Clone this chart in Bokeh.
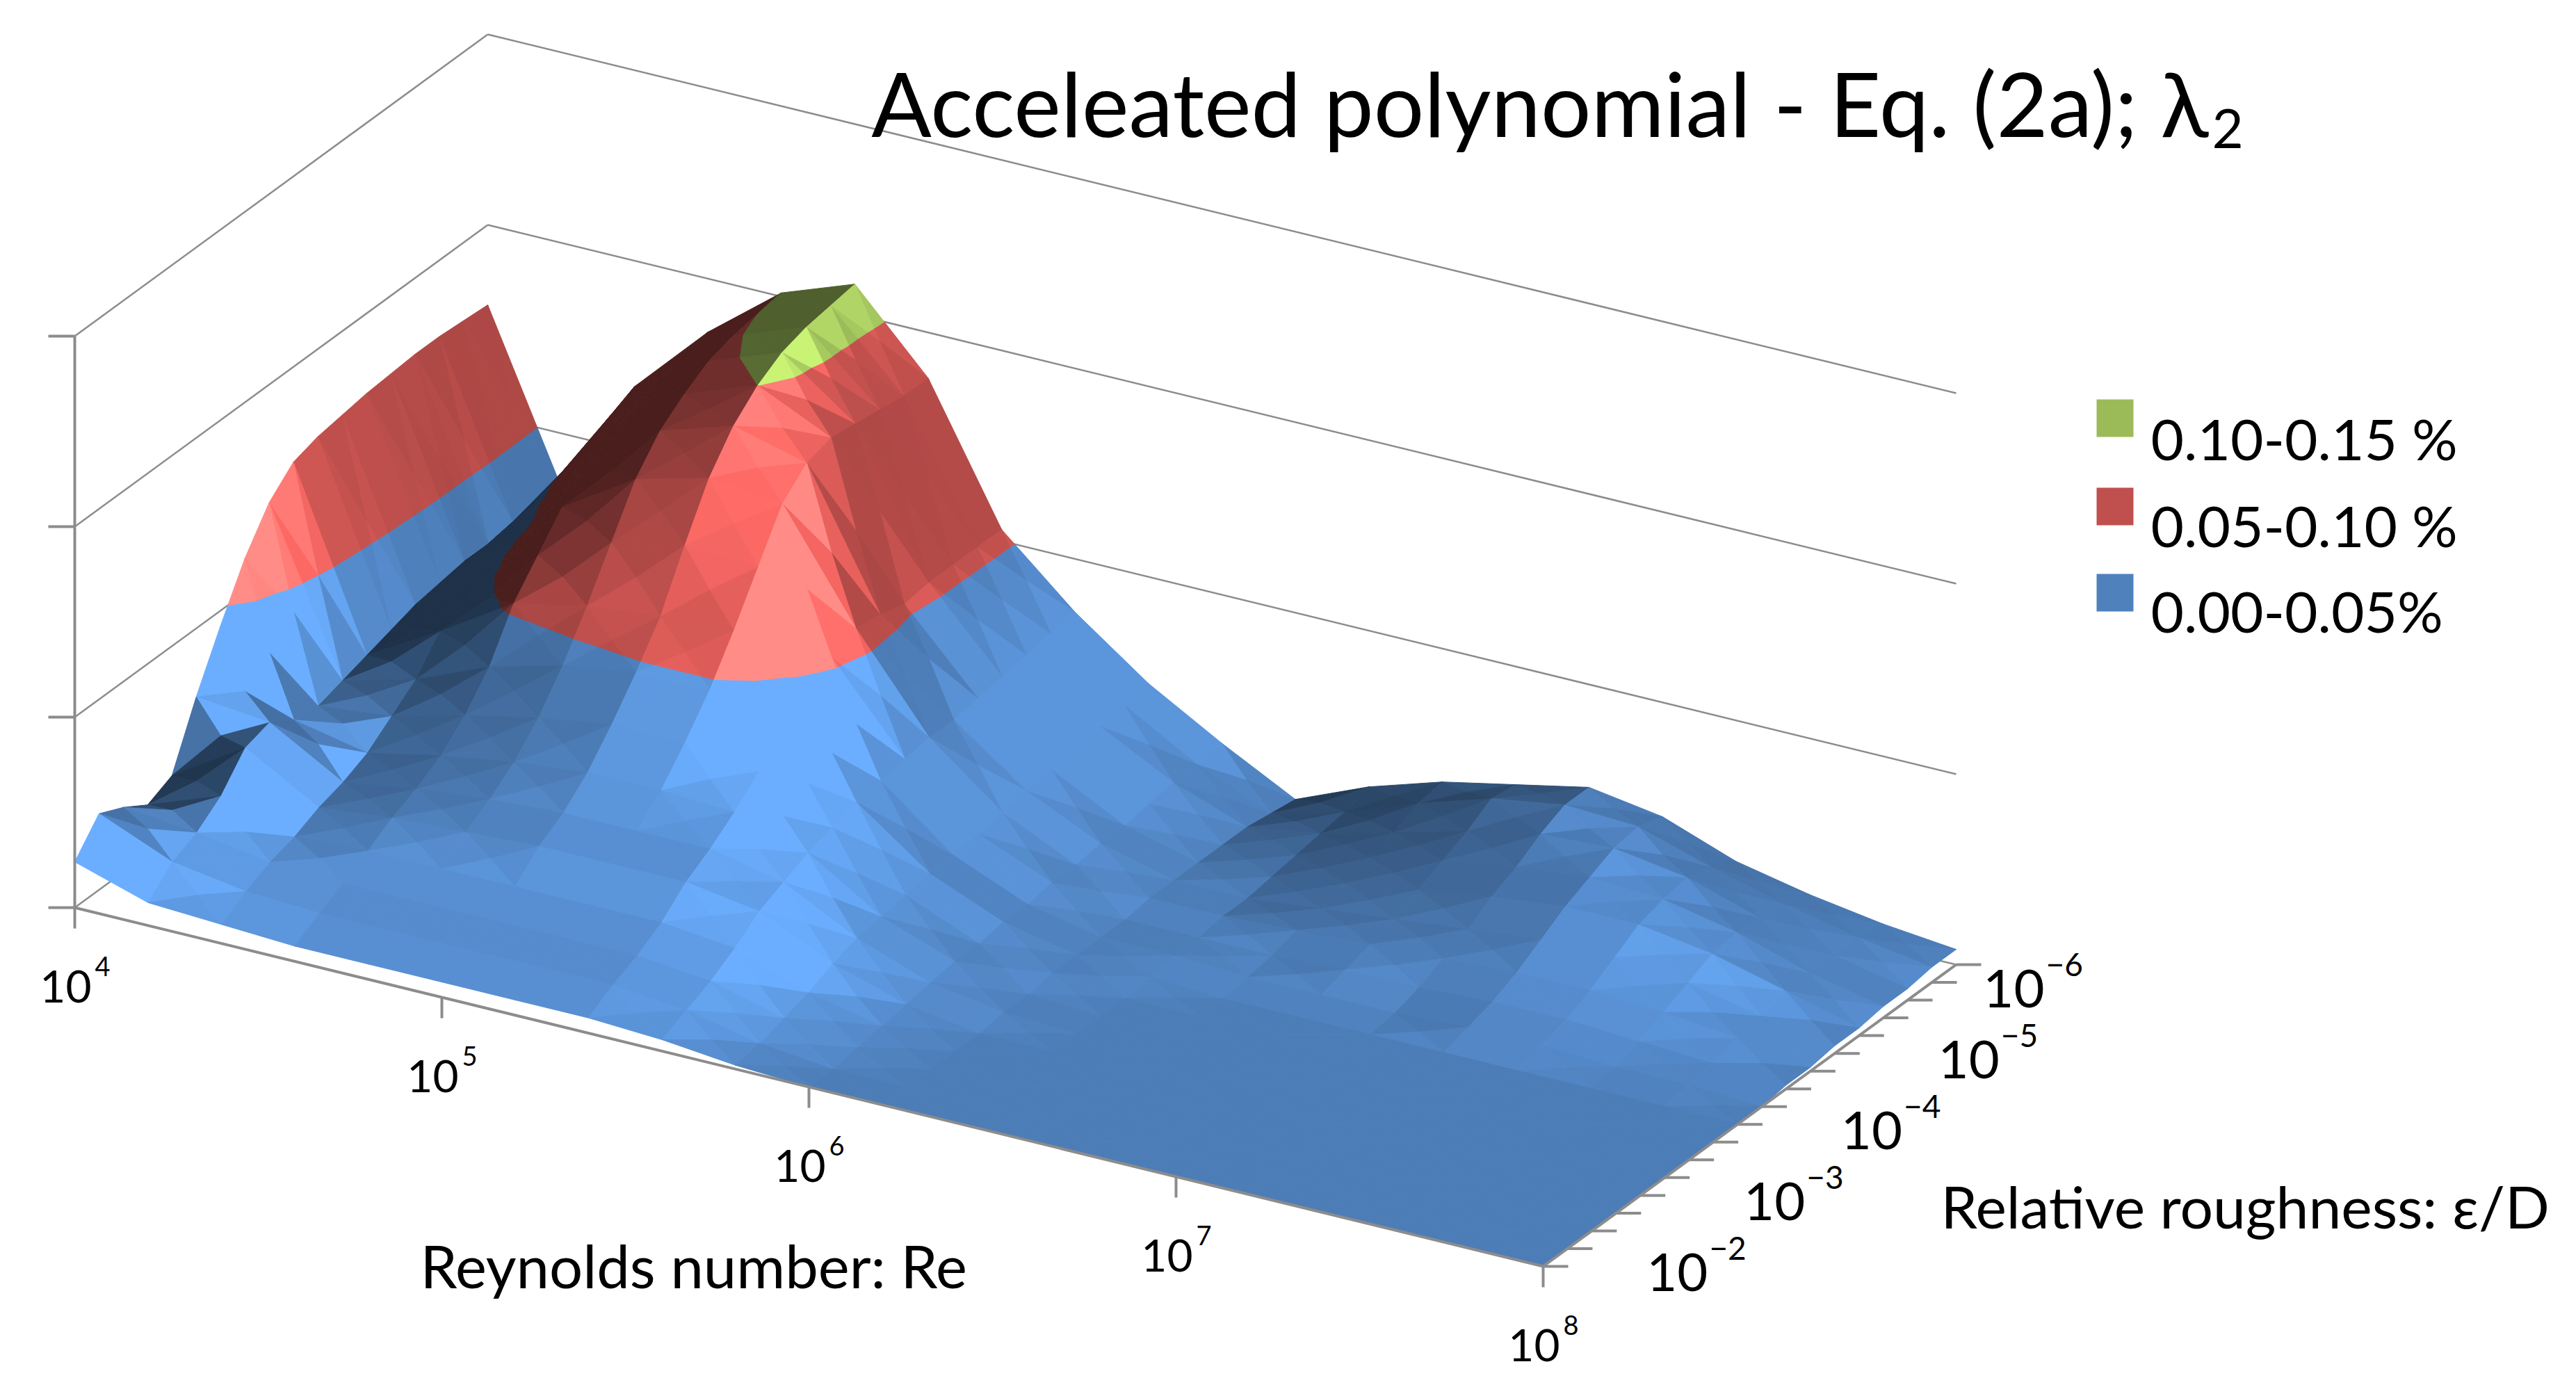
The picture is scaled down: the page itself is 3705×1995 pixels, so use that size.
import numpy as np
from bokeh.plotting import figure
from bokeh.models import Range1d
from bokeh.embed import file_html
from bokeh.resources import INLINE
from bokeh.core.properties import value

# ---------------- data ----------------
# Reynolds number exponents (columns) and relative-roughness exponents (rows, back -> front)
re_exp = [4.0, 4.2, 4.4, 4.6, 4.8, 5.0, 5.2, 5.4, 5.6, 5.8, 6.0,
          6.2, 6.4, 6.6, 6.8, 7.0, 7.2, 7.4, 7.6, 7.8, 8.0]
eps_exp = [-6.0, -5.75, -5.5, -5.25, -5.0, -4.75, -4.5, -4.25, -4.0,
           -3.75, -3.5, -3.25, -3.0, -2.75, -2.5, -2.25, -2.0, -1.75]

# relative error of lambda_2 in %, one list per roughness row
err_eps_6_00 = [0.079, 0.036, 0.067, 0.086, 0.101, 0.108, 0.088, 0.053, 0.036, 0.022, 0.011, 0.001, 0.009, 0.015, 0.019, 0.023, 0.020, 0.013, 0.009, 0.006, 0.004]
err_eps_5_75 = [0.0795, 0.036, 0.064, 0.084, 0.100, 0.107, 0.088, 0.053, 0.035, 0.021, 0.010, 0.002, 0.007, 0.014, 0.020, 0.023, 0.022, 0.016, 0.011, 0.007, 0.004]
err_eps_5_50 = [0.080, 0.036, 0.060, 0.082, 0.099, 0.106, 0.089, 0.053, 0.034, 0.020, 0.010, 0.003, 0.006, 0.011, 0.016, 0.020, 0.021, 0.018, 0.012, 0.007, 0.003]
err_eps_5_25 = [0.080, 0.035, 0.055, 0.079, 0.097, 0.104, 0.090, 0.053, 0.033, 0.019, 0.009, 0.003, 0.005, 0.009, 0.013, 0.016, 0.018, 0.017, 0.013, 0.007, 0.003]
err_eps_5_00 = [0.0795, 0.035, 0.051, 0.076, 0.093, 0.100, 0.091, 0.052, 0.032, 0.018, 0.008, 0.003, 0.004, 0.007, 0.010, 0.013, 0.015, 0.015, 0.012, 0.007, 0.002]
err_eps_4_75 = [0.079, 0.034, 0.049, 0.073, 0.088, 0.094, 0.089, 0.054, 0.031, 0.017, 0.008, 0.003, 0.003, 0.005, 0.007, 0.009, 0.011, 0.011, 0.009, 0.005, 0.002]
err_eps_4_50 = [0.078, 0.033, 0.046, 0.068, 0.080, 0.085, 0.083, 0.055, 0.031, 0.016, 0.007, 0.003, 0.003, 0.004, 0.005, 0.006, 0.007, 0.007, 0.006, 0.004, 0.001]
err_eps_4_25 = [0.077, 0.031, 0.043, 0.060, 0.068, 0.072, 0.071, 0.052, 0.030, 0.015, 0.007, 0.002, 0.002, 0.002, 0.003, 0.003, 0.004, 0.004, 0.003, 0.002, 0.001]
err_eps_4_00 = [0.075, 0.029, 0.040, 0.052, 0.056, 0.058, 0.059, 0.046, 0.029, 0.014, 0.006, 0.002, 0.002, 0.001, 0.001, 0.001, 0.002, 0.002, 0.001, 0.001, 0.000]
err_eps_3_75 = [0.069, 0.027, 0.032, 0.040, 0.045, 0.048, 0.048, 0.042, 0.028, 0.014, 0.006, 0.002, 0.001, 0.000, 0.000, 0.000, 0.000, 0.000, 0.000, 0.000, 0.000]
err_eps_3_50 = [0.059, 0.025, 0.027, 0.032, 0.036, 0.039, 0.039, 0.036, 0.026, 0.013, 0.005, 0.002, 0.000, 0.000, 0.000, 0.000, 0.000, 0.000, 0.000, 0.000, 0.000]
err_eps_3_25 = [0.046, 0.026, 0.022, 0.026, 0.029, 0.031, 0.031, 0.030, 0.024, 0.012, 0.005, 0.001, 0.000, 0.000, 0.000, 0.000, 0.000, 0.000, 0.000, 0.000, 0.000]
err_eps_3_00 = [0.032, 0.030, 0.019, 0.022, 0.024, 0.025, 0.025, 0.025, 0.021, 0.011, 0.004, 0.001, 0.000, 0.000, 0.000, 0.000, 0.000, 0.000, 0.000, 0.000, 0.000]
err_eps_2_75 = [0.016, 0.028, 0.017, 0.019, 0.020, 0.021, 0.021, 0.021, 0.018, 0.009, 0.003, 0.000, 0.000, 0.000, 0.000, 0.000, 0.000, 0.000, 0.000, 0.000, 0.000]
err_eps_2_50 = [0.013, 0.020, 0.014, 0.015, 0.015, 0.015, 0.015, 0.015, 0.013, 0.006, 0.002, 0.000, 0.000, 0.000, 0.000, 0.000, 0.000, 0.000, 0.000, 0.000, 0.000]
err_eps_2_25 = [0.017, 0.015, 0.012, 0.011, 0.011, 0.011, 0.011, 0.011, 0.009, 0.004, 0.001, 0.000, 0.000, 0.000, 0.000, 0.000, 0.000, 0.000, 0.000, 0.000, 0.000]
err_eps_2_00 = [0.020, 0.012, 0.009, 0.008, 0.008, 0.008, 0.008, 0.008, 0.006, 0.002, 0.000, 0.000, 0.000, 0.000, 0.000, 0.000, 0.000, 0.000, 0.000, 0.000, 0.000]
err_eps_1_75 = [0.012, 0.006, 0.005, 0.004, 0.004, 0.004, 0.004, 0.004, 0.003, 0.001, 0.000, 0.000, 0.000, 0.000, 0.000, 0.000, 0.000, 0.000, 0.000, 0.000, 0.000]

err_rows = [err_eps_6_00, err_eps_5_75, err_eps_5_50, err_eps_5_25, err_eps_5_00,
            err_eps_4_75, err_eps_4_50, err_eps_4_25, err_eps_4_00, err_eps_3_75,
            err_eps_3_50, err_eps_3_25, err_eps_3_00, err_eps_2_75, err_eps_2_50,
            err_eps_2_25, err_eps_2_00, err_eps_1_75]

re_tick_exp = [4, 5, 6, 7, 8]
eps_tick_exp = [-6, -5, -4, -3, -2]
z_ticks = [0.0, 0.05, 0.10, 0.15]
band_edges = [0.0, 0.05, 0.10, 0.15]
band_rgb = [(79, 129, 189), (192, 80, 77), (155, 187, 89)]
band_fmax = [1.35, 1.75, 1.3]
legend_labels = ["0.10-0.15 %", "0.05-0.10 %", "0.00-0.05%"]
legend_colors = ["#9BBB59", "#C0504D", "#4F81BD"]
title_main = "Acceleated polynomial - Eq. (2a); \u03bb"
title_sub = "2"
xlabel = "Reynolds number: Re"
ylabel = "Relative roughness: \u03b5/D"

# ---------------- 3-D projection (oblique view of the chart box) ----------------
RE_MIN, RE_MAX = 4.0, 8.0
EPS_FRONT, EPS_BACK = -1.75, -6.0
X0, Y0 = 115.0, 1313.0          # front-left floor corner
UX, UY = 2112.0, 516.0           # Re axis direction
VX, VY = 594.0, -434.0           # roughness axis direction (to the back)
ZPX = 5480.0                     # pixels per 1 %
PW, PD, PH = 2439.0, 1188.0, 907.0   # physical box used for lighting
A_NEG, A_POS, K_RF, B_FRONT, C_STEEP = 2.0, 0.25, 2.2, 0.5, 0.5
FONT = "Lato"


def uv(re_e, eps_e):
    return (re_e - RE_MIN) / (RE_MAX - RE_MIN), (EPS_FRONT - eps_e) / (EPS_FRONT - EPS_BACK)


def proj(u, v, z):
    return X0 + UX * u + VX * v, Y0 + UY * u + VY * v - ZPX * z


def shade(rgb, f):
    return "#%02x%02x%02x" % tuple(int(max(0, min(255, round(c * f)))) for c in rgb)


def clip_half(poly, thr, keep_above):
    out = []
    n = len(poly)
    for k in range(n):
        P = poly[k]
        Q = poly[(k + 1) % n]
        pin = P[2] >= thr if keep_above else P[2] <= thr
        qin = Q[2] >= thr if keep_above else Q[2] <= thr
        if pin:
            out.append(P)
        if pin != qin:
            t = (thr - P[2]) / (Q[2] - P[2])
            out.append(tuple(P[m] + t * (Q[m] - P[m]) for m in range(3)))
    return out


Z = np.array(err_rows, dtype=float)
U = np.array([uv(r, -6.0)[0] for r in re_exp])
V = np.array([uv(4.0, e)[1] for e in eps_exp])
nr, nc = Z.shape

xs, ys, cols = [], [], []


def add_triangle(tri):
    P = np.array([[t[0] * PW, t[1] * PD, t[2] / 0.15 * PH] for t in tri])
    n = np.cross(P[1] - P[0], P[2] - P[0])
    if n[2] < 0:
        n = -n
    nn = np.linalg.norm(n)
    if nn == 0:
        return
    nx, ny, nz = n / nn
    e = (A_NEG * min(nx, 0.0) + A_POS * max(nx, 0.0) + K_RF * max(nx, 0.0) * max(-ny, 0.0)
         - B_FRONT * ny - C_STEEP * (1.0 - nz))
    f0 = 0.97 * float(np.exp(e))
    for b in range(3):
        poly = list(tri)
        if b > 0:
            poly = clip_half(poly, band_edges[b], True)
        if b < 2 and len(poly) >= 3:
            poly = clip_half(poly, band_edges[b + 1], False)
        if len(poly) < 3:
            continue
        f = max(0.38, min(band_fmax[b], f0))
        px, py = zip(*[proj(p[0], p[1], p[2]) for p in poly])
        xs.append(list(px))
        ys.append(list(py))
        cols.append(shade(band_rgb[b], f))


for i in range(nr - 1):          # back row first
    for j in range(nc - 1):      # left to right
        A = (U[j], V[i], Z[i, j])
        B = (U[j + 1], V[i], Z[i, j + 1])
        C = (U[j + 1], V[i + 1], Z[i + 1, j + 1])
        D = (U[j], V[i + 1], Z[i + 1, j])
        M = ((A[0] + B[0] + C[0] + D[0]) / 4, (A[1] + B[1] + C[1] + D[1]) / 4,
             (A[2] + B[2] + C[2] + D[2]) / 4)
        add_triangle([A, B, M])   # back
        add_triangle([A, M, D])   # left
        add_triangle([B, C, M])   # right
        add_triangle([D, M, C])   # front

# ---------------- figure ----------------
W, H = 3689, 1979
p = figure(width=W, height=H, output_backend="svg", toolbar_location=None,
           x_range=Range1d(8, 8 + W), y_range=Range1d(8 + H, 8),
           x_axis_location=None, y_axis_location=None, min_border=0)
p.grid.visible = False
p.outline_line_color = None
p.background_fill_color = "white"
p.border_fill_color = "white"

GRID = "#8c8c8c"
# wall gridlines (back wall v=1, left wall u=0)
wx, wy = [], []
for zt in z_ticks:
    a = proj(0, 1, zt); b = proj(1, 1, zt); c = proj(0, 0, zt)
    wx.append([a[0], b[0]]); wy.append([a[1], b[1]])
    wx.append([c[0], a[0]]); wy.append([c[1], a[1]])
p.multi_line(wx, wy, line_color=GRID, line_width=2.5)

# surface
p.patches(xs, ys, fill_color=cols, line_color=cols, line_width=1.0)

# axes
ax, ay = [], []
a0 = proj(0, 0, 0); a1 = proj(0, 0, 0.15)
ax.append([a0[0], a1[0]]); ay.append([a0[1], a1[1]])
for zt in z_ticks:
    q = proj(0, 0, zt)
    ax.append([q[0] - 38, q[0]]); ay.append([q[1], q[1]])
r1 = proj(1, 0, 0)
ax.append([a0[0], r1[0]]); ay.append([a0[1], r1[1]])
for e in re_tick_exp:
    q = proj(uv(e, -2)[0], 0, 0)
    ax.append([q[0], q[0]]); ay.append([q[1], q[1] + 30])
b1 = proj(1, 1, 0)
ax.append([r1[0], b1[0]]); ay.append([r1[1], b1[1]])
for e in eps_exp:
    q = proj(1, uv(4, e)[1], 0)
    ax.append([q[0], q[0] + 36]); ay.append([q[1], q[1]])
p.multi_line(ax, ay, line_color=GRID, line_width=4)

# Re tick labels
mx, my, sx, sy, st = [], [], [], [], []
for e in re_tick_exp:
    q = proj(uv(e, -2)[0], 0, 0)
    mx.append(q[0] + 24); my.append(q[1] + 113)
    sx.append(q[0] + 29); sy.append(q[1] + 84); st.append(str(e))
p.text(mx, my, text=["10"] * len(mx), text_font=value(FONT), text_font_size="64px",
       text_align="right", text_baseline="alphabetic", text_color="black")
p.text(sx, sy, text=st, text_font=value(FONT), text_font_size="38px",
       text_align="left", text_baseline="alphabetic", text_color="black")

# roughness tick labels
mx, my, sx, sy, st = [], [], [], [], []
for k, e in enumerate(eps_tick_exp):
    q = proj(1, uv(4, e)[1], 0)
    right = q[0] + (127 if k == 0 else 202)
    mx.append(right); my.append(q[1] + 34)
    sx.append(right + 2); sy.append(q[1]); st.append("\u2212" + str(abs(e)))
p.text(mx, my, text=["10"] * len(mx), text_font=value(FONT), text_font_size="76px",
       text_align="right", text_baseline="alphabetic", text_color="black")
p.text(sx, sy, text=st, text_font=value(FONT), text_font_size="46px",
       text_align="left", text_baseline="alphabetic", text_color="black")

# axis titles
p.text([612], [1827], text=[xlabel], text_font=value(FONT), text_font_size="85px",
       text_align="left", text_baseline="alphabetic", text_color="black")
p.text([2799], [1742], text=[ylabel], text_font=value(FONT), text_font_size="84px",
       text_align="left", text_baseline="alphabetic", text_color="black")

# title
p.text([3184], [155], text=[title_main], text_font=value(FONT), text_font_size="128px",
       text_align="right", text_baseline="alphabetic", text_color="black")
p.text([3189], [192], text=[title_sub], text_font=value(FONT), text_font_size="78px",
       text_align="left", text_baseline="alphabetic", text_color="black")

# legend
leg_top = [582, 709, 833]
p.quad(left=[3023] * 3, right=[3076] * 3, top=leg_top, bottom=[t + 54 for t in leg_top],
       fill_color=legend_colors, line_color=None)
p.text([3101] * 3, [637, 762, 885], text=legend_labels, text_font=value(FONT),
       text_font_size="82px", text_align="left", text_baseline="alphabetic", text_color="black")

open("out.html", "w").write(file_html(p, INLINE))
